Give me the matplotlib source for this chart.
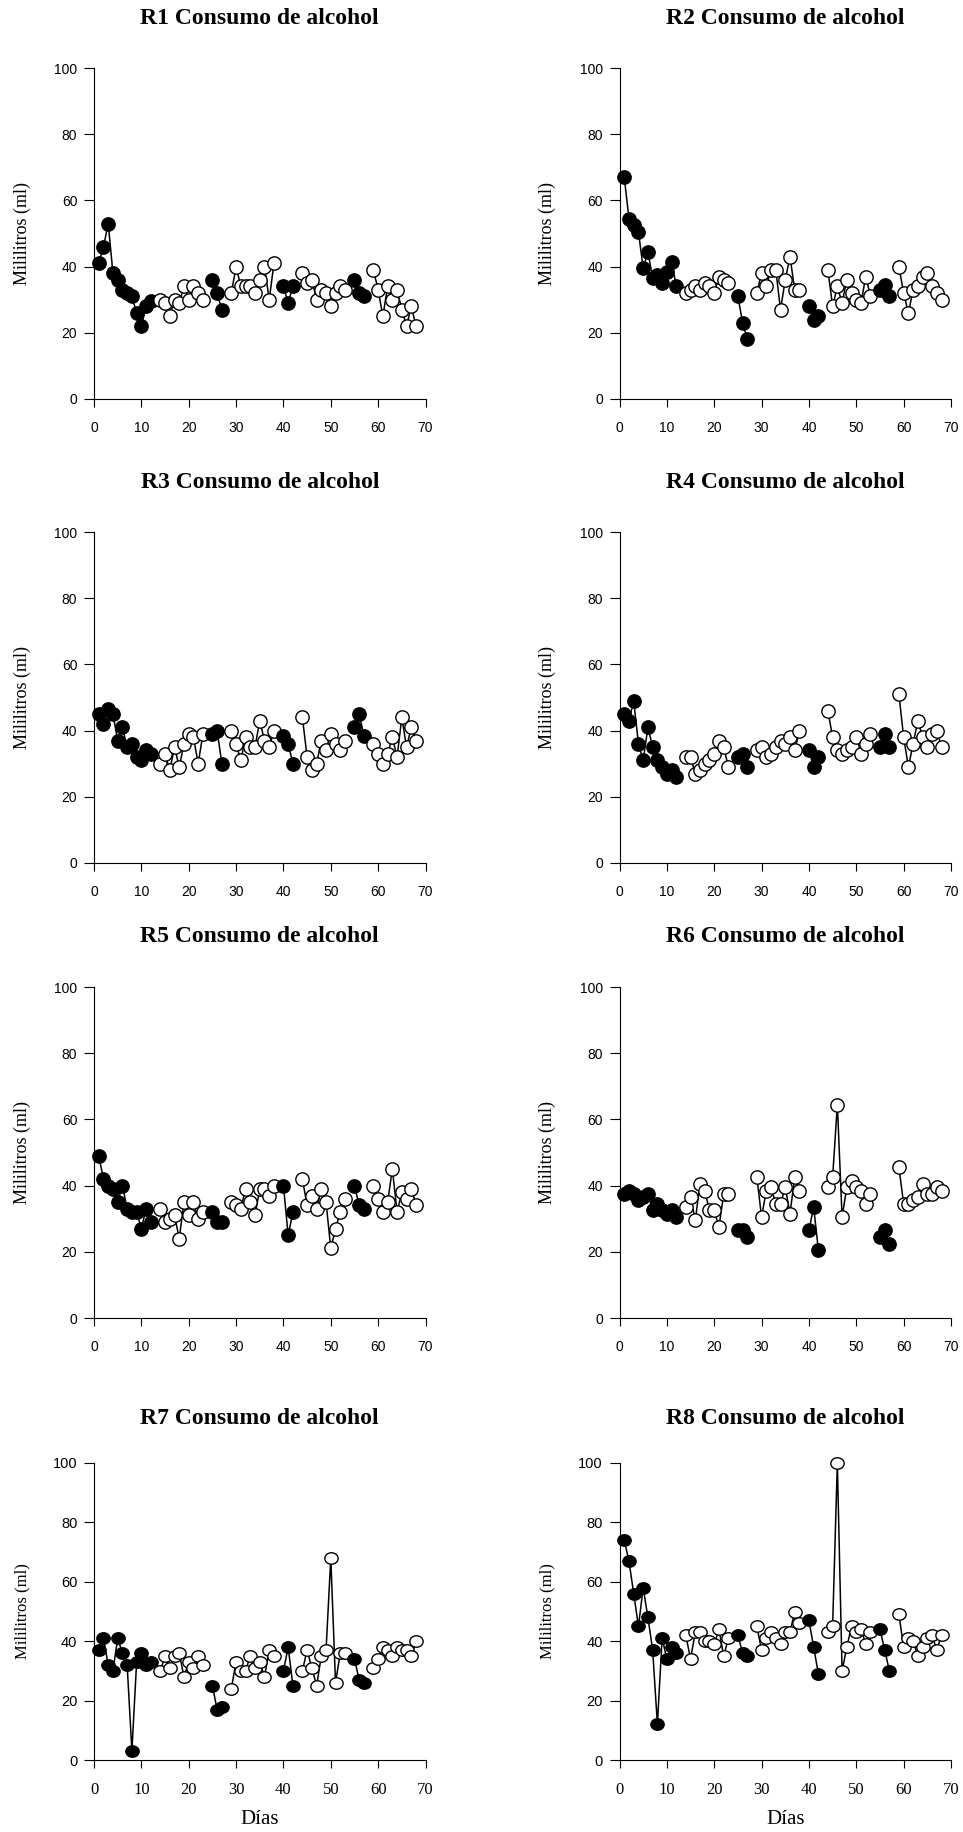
import matplotlib
matplotlib.use('Agg')
import matplotlib.pyplot as plt
from matplotlib.path import Path
from matplotlib.transforms import Affine2D

# ---------------- data ----------------
# days of each phase (A = baseline, filled; B = treatment, open)
dias_A1 = [1, 2, 3, 4, 5, 6, 7, 8, 9, 10, 11, 12]
dias_B1 = [14, 15, 16, 17, 18, 19, 20, 21, 22, 23]
dias_A2 = [25, 26, 27]
dias_B2 = [29, 30, 31, 32, 33, 34, 35, 36, 37, 38]
dias_A3 = [40, 41, 42]
dias_B3 = [44, 45, 46, 47, 48, 49, 50, 51, 52, 53]
dias_A4 = [55, 56, 57]
dias_B4 = [59, 60, 61, 62, 63, 64, 65, 66, 67, 68]

r1 = [[41, 46, 53, 38, 36, 33, 32, 31, 26, 22, 28, 29.5],
      [30, 29, 25, 30, 29, 34, 30, 34, 32, 30],
      [36, 32, 27],
      [32, 40, 34, 34, 34, 32, 36, 40, 30, 41],
      [34, 29, 34],
      [38, 35, 36, 30, 33, 32, 28, 32, 34, 33],
      [36, 32, 31],
      [39, 33, 25, 34, 30, 33, 27, 22, 28, 22]]

r2 = [[67, 54.5, 52.5, 50.5, 39.5, 44.5, 36.5, 37.5, 35, 38.5, 41.5, 34],
      [32, 33, 34, 33, 35, 34, 32, 37, 36, 35],
      [31, 23, 18],
      [32, 38, 34, 39, 39, 27, 36, 43, 33, 33],
      [28, 24, 25],
      [39, 28, 34, 29, 36, 32, 30, 29, 37, 31],
      [33, 34.5, 31],
      [40, 32, 26, 33, 34, 37, 38, 34, 32, 30]]

r3 = [[45, 42, 46.5, 45, 37, 41, 35, 36, 32, 31, 34, 33],
      [30, 33, 28, 35, 29, 36, 39, 38, 30, 39],
      [39, 40, 30],
      [40, 36, 31, 38, 35, 35, 43, 37, 35, 40],
      [38.5, 36, 30],
      [44, 32, 28, 30, 37, 34, 39, 36, 34, 37],
      [41, 45, 38.5],
      [36, 33, 30, 33, 38, 32, 44, 35, 41, 37]]

r4 = [[45, 43, 49, 36, 31, 41, 35, 31, 29, 27, 28, 26],
      [32, 32, 27, 28, 30, 31, 33, 37, 35, 29],
      [32, 33, 29],
      [34, 35, 32, 33, 35, 37, 36, 38, 34, 40],
      [34, 29, 32],
      [46, 38, 34, 33, 34, 35, 38, 33, 36, 39],
      [35, 39, 35],
      [51, 38, 29, 36, 43, 38, 35, 39, 40, 35]]

r5 = [[49, 42, 40, 39, 35, 40, 33, 32, 32, 27, 33, 29],
      [33, 29, 30, 31, 24, 35, 31, 35, 30, 32],
      [32, 29, 29],
      [35, 34, 33, 39, 35, 31, 39, 39, 37, 40],
      [40, 25, 32],
      [42, 34, 37, 33, 39, 35, 21, 27, 32, 36],
      [40, 34, 33],
      [40, 36, 32, 35, 45, 32, 38, 36, 39, 34]]

r6 = [[37.5, 38.5, 37.5, 35.5, 36.5, 37.5, 32.5, 34.5, 32.5, 31.5, 32.5, 30.5],
      [33.5, 36.5, 29.5, 40.5, 38.5, 32.5, 32.5, 27.5, 37.5, 37.5],
      [26.5, 26.5, 24.5],
      [42.5, 30.5, 38.5, 39.5, 34.5, 34.5, 39.5, 31.5, 42.5, 38.5],
      [26.5, 33.5, 20.5],
      [39.5, 42.5, 64.5, 30.5, 39.5, 41.5, 39.5, 38.5, 34.5, 37.5],
      [24.5, 26.5, 22.5],
      [45.5, 34.5, 34.5, 35.5, 36.5, 40.5, 37.5, 37.5, 39.5, 38.5]]

r7 = [[37, 41, 32, 30, 41, 36, 32, 3, 33, 36, 32, 33],
      [30, 35, 31, 35, 36, 28, 33, 31, 35, 32],
      [25, 17, 18],
      [24, 33, 30, 30, 35, 31, 33, 28, 37, 35],
      [30, 38, 25],
      [30, 37, 31, 25, 35, 37, 68, 26, 36, 36],
      [34, 27, 26],
      [31, 34, 38, 37, 35, 38, 37, 37, 35, 40]]

r8 = [[74, 67, 56, 45, 58, 48, 37, 12, 41, 34, 38, 36],
      [42, 34, 43, 43, 40, 40, 39, 44, 35, 41],
      [42, 36, 35],
      [45, 37, 41, 43, 41, 39, 43, 43, 50, 46],
      [47, 38, 29],
      [43, 45, 100, 30, 38, 45, 43, 44, 39, 43],
      [44, 37, 30],
      [49, 38, 41, 40, 35, 38, 41, 42, 37, 42]]

titulos = ['R1 Consumo de alcohol', 'R2 Consumo de alcohol',
           'R3 Consumo de alcohol', 'R4 Consumo de alcohol',
           'R5 Consumo de alcohol', 'R6 Consumo de alcohol',
           'R7 Consumo de alcohol', 'R8 Consumo de alcohol']
ylabel_txt = 'Mililitros (ml)'
xlabel_txt = 'Días'
xticks = [0, 10, 20, 30, 40, 50, 60, 70]
yticks = [0, 20, 40, 60, 80, 100]

# ---------------- layout ----------------
W, H = 963, 1832
fig = plt.figure(figsize=(W / 100, H / 100), dpi=100)

SERIF = 'Liberation Serif'
SANS = 'Liberation Sans'

col_x = [94, 619.5]
ax_w = 331.5
row_top = [68, 532, 987, 1463]
row_h = [331, 331, 331, 297]
title_y = [19, 483, 937, 1419]

panels = [r1, r2, r3, r4, r5, r6, r7, r8]
dias = [dias_A1, dias_B1, dias_A2, dias_B2, dias_A3, dias_B3, dias_A4, dias_B4]

# slightly flattened circle for the shorter bottom row
circ = Path.unit_circle()
ellipse = circ.transformed(Affine2D().scale(1.0, 0.86))

for i, data in enumerate(panels):
    r, c = divmod(i, 2)
    left = col_x[c] / W
    bottom = 1 - (row_top[r] + row_h[r]) / H
    ax = fig.add_axes([left, bottom, ax_w / W, row_h[r] / H])
    mk = ellipse if r == 3 else 'o'
    for k, (d, v) in enumerate(zip(dias, data)):
        filled = (k % 2 == 0)
        ax.plot(d, v, color='black', lw=1.1, marker=mk, ms=9.6,
                mfc='black' if filled else 'white', mec='black', mew=1.0,
                clip_on=False, zorder=3)
    ax.set_xlim(0, 70)
    ax.set_ylim(0, 100)
    ax.set_xticks(xticks)
    ax.set_yticks(yticks)
    for s in ['top', 'right']:
        ax.spines[s].set_visible(False)
    for s in ['left', 'bottom']:
        ax.spines[s].set_linewidth(0.8)
    ax.tick_params(axis='y', direction='out', length=7, width=0.8, pad=5)
    ax.tick_params(axis='x', direction='out', length=5.5, width=0.8, pad=10)
    for lab in ax.get_yticklabels():
        lab.set_fontfamily(SANS)
        lab.set_fontsize(10.5 if r == 3 else 10)
    for lab in ax.get_xticklabels():
        if r == 3:
            lab.set_fontfamily(SERIF)
            lab.set_fontsize(12)
        else:
            lab.set_fontfamily(SANS)
            lab.set_fontsize(10)

    cx = (col_x[c] + ax_w / 2) / W
    fig.text(cx, 1 - title_y[r] / H, titulos[i], ha='center', va='center',
             fontfamily=SERIF, fontweight='bold', fontsize=17)
    ycen = row_top[r] + row_h[r] / 2
    fig.text((col_x[c] - 72) / W, 1 - ycen / H, ylabel_txt, rotation=90,
             ha='center', va='center', fontfamily=SERIF,
             fontsize=12 if r == 3 else 13)
    if r == 3:
        fig.text(cx, 1 - 1819 / H, xlabel_txt, ha='center', va='center',
                 fontfamily=SERIF, fontsize=15)

fig.savefig('out.png', dpi=100, facecolor='white')
